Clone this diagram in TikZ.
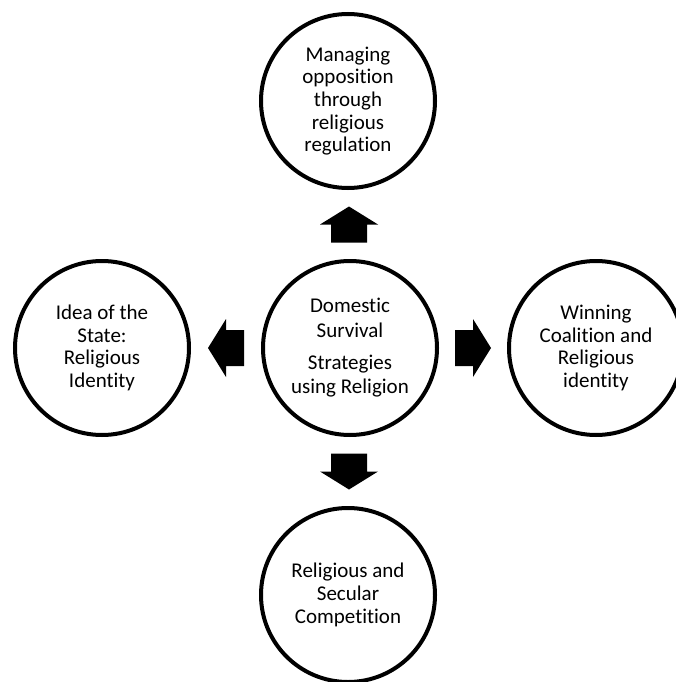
\documentclass[tikz,border=0pt]{standalone}
\usepackage{fontspec}
\setmainfont{Carlito}[Ligatures={NoCommon,NoContextual}]
\usetikzlibrary{calc}
\begin{document}
\begin{tikzpicture}[x=1pt,y=-1pt,
  bubble/.style={circle,draw=black,line width=4pt,minimum size=174pt,inner sep=0pt,
    align=center,font=\fontsize{21}{22.7}\selectfont,fill=white},
  blockarr/.style={fill=black,draw=none}]
\useasboundingbox (0,0) rectangle (676,682);
\clip (0,0) rectangle (676,682);
\node[bubble,font=\fontsize{21}{24.5}\selectfont] (c) at (350,348) {Domestic\\Survival\\[7.5pt]Strategies\\using Religion};
\node[bubble] (t) at (348,101) {Managing\\opposition\\through\\religious\\regulation};
\node[bubble] (l) at (102,348) {Idea of the\\State:\\Religious\\Identity};
\node[bubble] (r) at (596,348) {Winning\\Coalition and\\Religious\\identity};
\node[bubble] (b) at (348,595) {Religious and\\Secular\\Competition};
% up
\fill[blockarr] ($(c)!0.5!(t)+(0,-18)$) -- ++(29,18) -- ++(-11,0) -- ++(0,18) -- ++(-36,0) -- ++(0,-18) -- ++(-11,0) -- cycle;
% down
\fill[blockarr] ($(c)!0.5!(b)+(0,18)$) -- ++(29,-18) -- ++(-11,0) -- ++(0,-18) -- ++(-36,0) -- ++(0,18) -- ++(-11,0) -- cycle;
% left
\fill[blockarr] ($(c)!0.5!(l)+(-18,0)$) -- ++(18,-29) -- ++(0,11) -- ++(18,0) -- ++(0,36) -- ++(-18,0) -- ++(0,11) -- cycle;
% right
\fill[blockarr] ($(c)!0.5!(r)+(18,0)$) -- ++(-18,-29) -- ++(0,11) -- ++(-18,0) -- ++(0,36) -- ++(18,0) -- ++(0,11) -- cycle;
\end{tikzpicture}
\end{document}
